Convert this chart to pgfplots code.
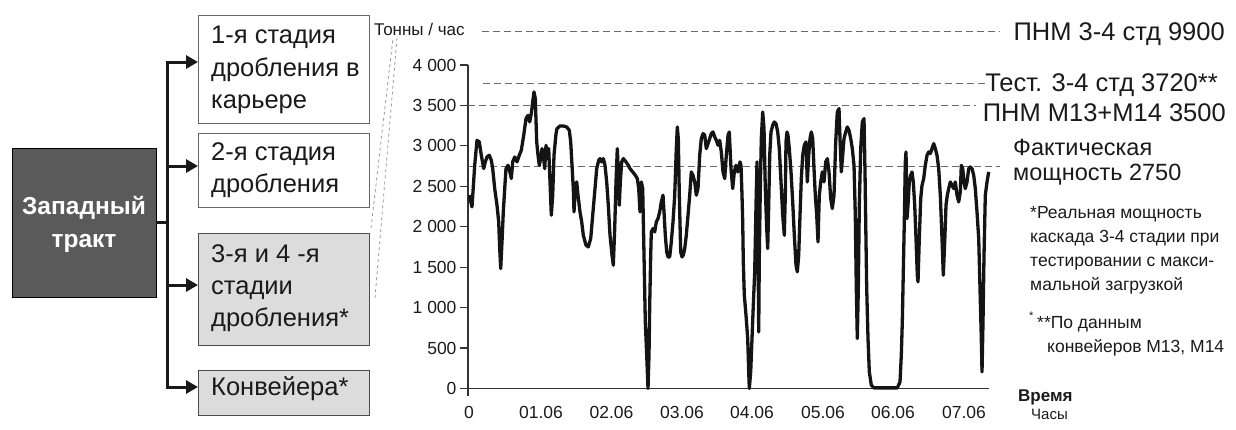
\documentclass[border=0pt]{standalone}
\usepackage{fontspec}
\setmainfont{Liberation Sans}
\usepackage{pgfplots}
\pgfplotsset{compat=1.18}
\usepackage{pgfplotstable}
\usetikzlibrary{arrows.meta}
\definecolor{darkbox}{HTML}{5A5A5A}
\definecolor{lightbox}{HTML}{DCDCDC}
\definecolor{dashgray}{HTML}{6A6A6A}
\definecolor{txt}{HTML}{1A1A1A}
\newcommand{\fs}[1]{\fontsize{#1}{#1}\selectfont}

\pgfplotstableread{
x y
469.3 2390
472 2245
474.7 2760
477 3069
479.3 3049
481.3 2884
483.7 2719
485.3 2802
487 2863
489.3 2884
491.3 2822
492.7 2719
494.7 2472
497 2266
498.7 2060
499.7 1730
500.7 1483
502 1813
503.3 2184
504.7 2472
506 2719
508 2760
510.3 2657
511.3 2596
512.7 2802
514.7 2863
517 2802
519.3 2884
521.3 2946
523.7 3131
526 3337
528 3378
529.7 3296
531.3 3399
532.7 3543
534 3667
535.3 3584
536.7 3049
538 2884
539.3 2760
540.7 2843
542 2966
543.3 2884
544.7 2719
546 3008
547.3 2843
548.7 2966
550 2554
551.3 2142
552.7 2390
554 2884
556 3150
557 3214
560 3246
563.3 3246
566.7 3234
569.3 3193
570.7 3049
572 2760
573.3 2472
574 2184
575.3 2472
576.7 2554
578 2390
580 2184
581.7 2060
583.3 1895
586 1772
588.3 1751
590.7 1854
592.7 2142
595 2472
596.7 2719
598.7 2822
600 2843
601.7 2802
603.3 2843
605 2760
606.7 2554
608.3 2266
610 1895
612 1648
613.3 1524
614.7 1978
616 2554
617.3 2966
618.3 2678
619.3 2266
620.3 2554
621.7 2802
623.3 2843
626 2802
628.3 2760
630 2719
632.7 2678
635.3 2637
637.3 2596
638.7 2472
640 2184
641.3 2554
642.7 2472
644 1648
645.3 824
646.7 412
648 0
649 412
649.7 1030
650.7 1648
651.3 1936
653 1978
654.7 1936
656.3 2060
658 2101
659.7 2184
661.3 2307
663 2390
664 2184
665.3 1895
666.7 1689
668 1627
669.7 1627
671.3 1813
673 2060
674.7 2390
676.3 2966
677.3 3234
678.3 3090
679.3 2390
680.7 1689
682 1627
683.3 1648
684.7 1730
686.3 1895
688 2142
689.7 2390
691.3 2678
693 2637
694.7 2554
696.3 2390
698 2472
699.7 2884
701.3 3090
703 3152
704.7 3131
706.3 2966
708 3028
709.7 3090
711.3 3152
713 3172
714.7 3111
716.3 3069
718 3008
719.7 3069
721.3 2925
723 2678
724.7 2596
726.3 2884
728 3131
729.3 3172
731 2719
732.7 2472
734.3 2678
736 2760
737.7 2678
739.3 2760
740 2802
741 2760
742 2390
742.7 2060
743.3 1566
744.3 1154
746 906
747.7 618
748.7 206
749.3 0
750.7 206
752 618
753.3 1030
754.7 1442
756 2266
757 2802
758 1854
758.7 700
759.3 1648
760.3 2472
761.3 3090
762.7 3420
764 3214
765.3 2472
766.7 1978
767.7 1730
768.7 2266
769.7 2884
771 3172
772.7 3255
774.3 3296
776 3275
777.7 3172
779.3 2966
781 2554
782.7 2142
784.3 1895
785.3 2390
786 3049
787 3172
788 3131
789.3 2966
791 2678
792.7 2307
794.3 1895
796 1524
797.3 1442
798.7 1648
800 2142
801.3 2596
802.7 2884
804.3 3008
806 3049
807.3 2554
808.7 2884
810 3090
811.3 3172
812.7 3090
814 2719
815.3 2390
816.7 2142
818 1813
819.3 2390
820.7 2554
822.3 2678
824 2554
825.7 2802
827.3 2843
829 2678
830.7 2348
832.3 2225
834 2390
835.7 3049
837.3 3420
839 3461
840 3090
841.3 2678
842.7 2884
844 3090
845.7 3172
847.3 3234
849 3193
850.7 3090
852.3 2966
854 2760
855.3 2142
856.3 1236
857.3 618
858.3 1236
859.3 2266
860.7 2966
862.3 3296
864 3337
865 2678
865.7 2060
866.7 1236
868 618
869.3 206
871.3 41
874 8
897.3 8
900 82
901.3 412
902.3 824
903.3 1442
904.3 2060
905.3 2802
906 2925
907 2101
908 2266
909.3 2554
910.7 2637
912 2678
913.3 2554
914.7 2266
916 1854
917.3 1401
918 1318
919.3 1854
920.7 2348
922 2513
923.7 2596
925.3 2760
927 2884
928.7 2925
930.3 2905
932 2966
933.7 3028
935.3 2966
937 2884
938.7 2719
940.3 2390
942 1854
943.3 1401
944.7 1813
946 2266
947.3 2390
948.7 2472
950.3 2554
952 2513
953.7 2472
955.3 2554
957 2390
958.7 2307
960.3 2431
961.3 2760
962.7 2719
964 2554
965.3 2472
967 2554
968.7 2719
970.3 2740
972 2719
973.7 2637
975.3 2472
977 2184
978.7 1854
980 1236
981.3 618
982 206
983 824
984 1648
985.3 2390
987 2554
988.7 2678
}\flowdata

\begin{document}
\begin{tikzpicture}[x=1pt,y=1pt]
\useasboundingbox (0,0) rectangle (1236,-429);

% ---- left diagram ----
\draw[black, line width=1pt, fill=darkbox] (12,-148) rectangle (156,-297);
\node[anchor=base, text=white, font=\fs{24.5}\bfseries] at (84,-214) {Западный};
\node[anchor=base, text=white, font=\fs{24.5}\bfseries] at (84,-247) {тракт};

\draw[black!90, line width=3pt] (156,-222) -- (167,-222);
\draw[black!90, line width=3pt] (167,-61) -- (167,-388.5);
\foreach \yy in {-62,-166,-285,-387}{
  \draw[black!90, line width=3pt, -{Triangle[length=12pt,width=13pt]}] (165.5,\yy) -- (198,\yy);
}

\draw[black!60, line width=1pt, fill=white] (198,-15) rectangle (369,-123);
\draw[black!60, line width=1pt, fill=white] (198,-133) rectangle (369,-207);
\draw[black!70, line width=1pt, fill=lightbox] (198,-233) rectangle (369,-345);
\draw[black!70, line width=1pt, fill=lightbox] (198,-370) rectangle (369,-415);

\begin{scope}[every node/.style={anchor=base west, text=txt, font=\fs{25.5}, inner sep=0pt}]
\node at (211,-43) {1-я стадия};
\node at (211,-76) {дробления в};
\node at (211,-108) {карьере};
\node at (211,-160) {2-я стадия};
\node at (211,-192) {дробления};
\node at (211,-262) {3-я и 4 -я};
\node at (211,-294) {стадии};
\node at (211,-326) {дробления*};
\node at (211,-395) {Конвейера*};
\end{scope}

\draw[black!40, line width=0.8pt, dash pattern=on 3pt off 3pt] (371,-228) -- (393,-38);
\draw[black!40, line width=0.8pt, dash pattern=on 3pt off 3pt] (375,-298) -- (397,-38);

% ---- chart ----
\node[anchor=base west, inner sep=0pt, text=txt, font=\fs{17}] at (374,-35) {Тонны / час};

\begin{axis}[
  at={(468pt,-388.5pt)}, anchor=south west,
  scale only axis, width=521pt, height=323.5pt,
  xmin=468, xmax=989, ymin=0, ymax=4000,
  axis x line=bottom, axis y line=left,
  axis line style={-, draw=black!80, line width=1.2pt},
  clip=false,
  ytick={0,500,1000,1500,2000,2500,3000,3500,4000},
  yticklabels={0,500,1 000,1 500,2 000,2 500,3 000,3 500,4 000},
  xtick={469,541,611.5,682,752,823,893,964},
  xticklabels={0,01.06,02.06,03.06,04.06,05.06,06.06,07.06},
  tick align=outside, major tick length=8pt,
  ytick style={line width=1.2pt, draw=black!80},
  xtick style={draw=none},
  ticklabel style={font=\fs{17.5}, text=txt},
  xticklabel style={yshift=-6pt},
]
\addplot[dashgray, line width=1.1pt, dash pattern=on 7pt off 4pt] coordinates {(482,4413) (1000,4413)};
\addplot[dashgray, line width=1.1pt, dash pattern=on 7pt off 4pt] coordinates {(483,3770) (985,3770)};
\addplot[dashgray, line width=1.1pt, dash pattern=on 7pt off 4pt] coordinates {(468,3500) (976,3500)};
\addplot[dashgray, line width=1.1pt, dash pattern=on 7pt off 4pt] coordinates {(468,2750) (1000,2750)};
\addplot[color=black!92, line width=3.3pt, line join=round, mark=none] table[x=x,y=y] {\flowdata};
\addplot[black!80, line width=1.2pt, mark=none] coordinates {(468,0) (468,-90)};
\end{axis}

% ---- right labels ----
\begin{scope}[every node/.style={inner sep=0pt, text=txt, font=\fs{25.5}}]
\node[anchor=base east] at (1225,-40) {ПНМ 3-4 стд 9900};
\node[anchor=base east] at (1218,-91) {Тест. 3-4 стд 3720**};
\node[anchor=base east] at (1226,-121) {ПНМ М13+М14 3500};
\end{scope}
\begin{scope}[every node/.style={inner sep=0pt, text=txt, font=\fs{23.5}}]
\node[anchor=base west] at (1013,-155) {Фактическая};
\node[anchor=base west] at (1013,-180) {мощность 2750};
\end{scope}

\begin{scope}[every node/.style={inner sep=0pt, text=txt, font=\fs{17.5}, anchor=base west}]
\node at (1030,-218) {*Реальная мощность};
\node at (1030,-242) {каскада 3-4 стадии при};
\node at (1030,-266) {тестировании с макси-};
\node at (1030,-290) {мальной загрузкой};
\node[font=\fs{11}] at (1029,-319) {*};
\node at (1037,-328) {**По данным};
\node at (1047,-352) {конвейеров М13, М14};
\node[font=\fs{17}\bfseries] at (1018,-401) {Время};
\node[font=\fs{15}] at (1031,-419) {Часы};
\end{scope}
\end{tikzpicture}
\end{document}
